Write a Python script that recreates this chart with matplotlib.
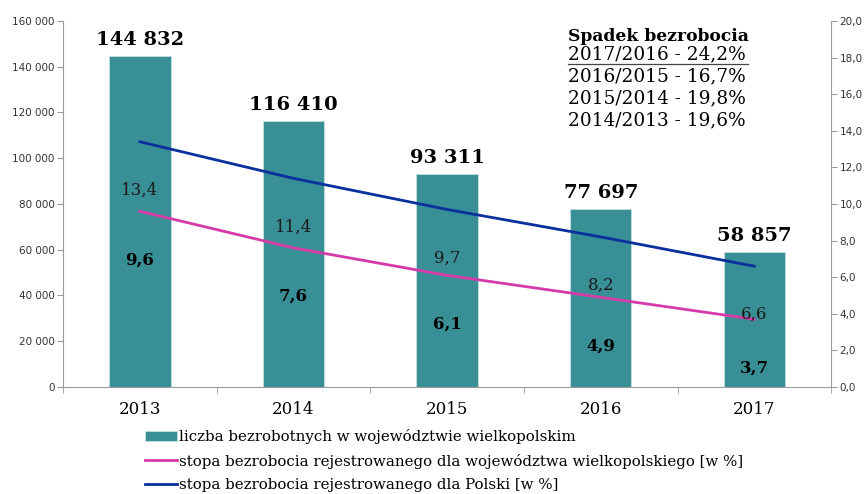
import matplotlib.pyplot as plt
import numpy as np

years = ["2013", "2014", "2015", "2016", "2017"]
bezrobotni = [144832, 116410, 93311, 77697, 58857]
stopa_wlkp = [9.6, 7.6, 6.1, 4.9, 3.7]
stopa_polska = [13.4, 11.4, 9.7, 8.2, 6.6]
spadek = ["2017/2016 - 24,2%", "2016/2015 - 16,7%", "2015/2014 - 19,8%", "2014/2013 - 19,6%"]

TEAL = "#398f96"
PINK = "#d63aa8"
BLUE = "#0b2f9c"
GRAY = "#9a9a9a"
SERIF = "DejaVu Serif"

def fmt_space(v):
    return f"{v:,}".replace(",", " ")

fig = plt.figure(figsize=(8.64, 4.94), dpi=100)
ax = fig.add_axes([0.073, 0.2166, 0.889, 0.741])
ax2 = ax.twinx()

x = np.arange(len(years))
bars = ax.bar(x, bezrobotni, width=0.4, color=TEAL, edgecolor="#bfe0e2", linewidth=0.6,
              label="liczba bezrobotnych w województwie wielkopolskim", zorder=2)
ax.set_xlim(-0.5, 4.5)
ax.set_ylim(0, 160000)
ax.set_yticks(np.arange(0, 160001, 20000))
ax.set_yticklabels([fmt_space(v) for v in range(0, 160001, 20000)], fontsize=7.5, color="#333333")
ax.set_xticks(x)
ax.set_xticklabels(years, fontsize=12, family=SERIF)
ax.tick_params(axis="x", length=0, pad=10)
ax.set_xticks(np.arange(-0.5, 4.6, 1), minor=True)
ax.tick_params(axis="x", which="minor", length=4, color=GRAY)
ax.tick_params(axis="y", length=4, color=GRAY, pad=2)

for b, v in zip(bars, bezrobotni):
    ax.annotate(fmt_space(v), (b.get_x() + b.get_width() / 2, v), xytext=(0, 5),
                textcoords="offset points", ha="center", va="bottom",
                fontsize=14, fontweight="bold", family=SERIF)

l1, = ax2.plot(x, stopa_wlkp, color=PINK, lw=2,
               label="stopa bezrobocia rejestrowanego dla województwa wielkopolskiego [w %]")
l2, = ax2.plot(x, stopa_polska, color=BLUE, lw=2,
               label="stopa bezrobocia rejestrowanego dla Polski [w %]")
ax2.set_ylim(0, 20)
ax2.set_yticks(np.arange(0, 20.1, 2))
ax2.set_yticklabels([f"{v:.1f}".replace(".", ",") for v in np.arange(0, 20.1, 2)],
                    fontsize=7.5, color="#333333")
ax2.tick_params(axis="y", length=4, color=GRAY, pad=2)

for xi, v in zip(x, stopa_polska):
    ax2.annotate(f"{v:.1f}".replace(".", ","), (xi, v), xytext=(0, -35),
                 textcoords="offset points", ha="center", va="center",
                 fontsize=12, family=SERIF, color="#1a1a1a")
for xi, v in zip(x, stopa_wlkp):
    ax2.annotate(f"{v:.1f}".replace(".", ","), (xi, v), xytext=(0, -35),
                 textcoords="offset points", ha="center", va="center",
                 fontsize=12, fontweight="bold", family=SERIF)

for a in (ax, ax2):
    a.spines["top"].set_visible(False)
    for s in ("left", "right", "bottom"):
        a.spines[s].set_color(GRAY)
ax.spines["right"].set_visible(False)
ax2.spines["left"].set_visible(False)
ax2.spines["bottom"].set_visible(False)

# text box
fig.text(0.657, 0.927, "Spadek bezrobocia", fontsize=12.3, fontweight="bold", family=SERIF,
         ha="left", va="center")
for i, s in enumerate(spadek):
    fig.text(0.657, 0.889 - i * 0.044, s, fontsize=13.3, family=SERIF,
             ha="left", va="center")
fig.add_artist(plt.Line2D([0.657, 0.866], [0.870, 0.870], color="#444444", lw=0.9))

fig.legend(handles=[bars, l1, l2], loc="upper left", bbox_to_anchor=(0.161, 0.143),
           frameon=False, prop={"family": SERIF, "size": 10.8}, handlelength=2.1,
           handletextpad=0.15, labelspacing=0.62, borderaxespad=0)

fig.savefig("out.png", dpi=100)
